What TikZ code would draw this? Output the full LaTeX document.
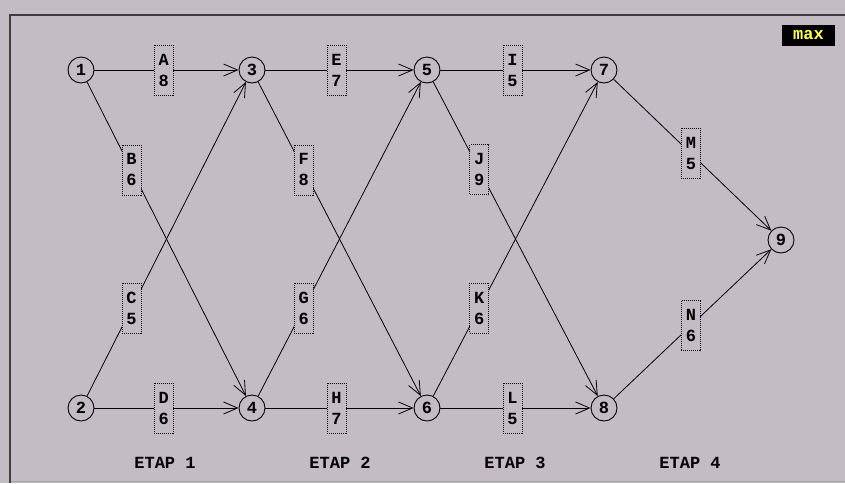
\documentclass[tikz,border=0pt]{standalone}
\usepackage{fontspec}
\setmonofont{Liberation Mono}
\usetikzlibrary{arrows.meta}
\definecolor{bg}{RGB}{196,188,196}
\definecolor{framec}{RGB}{64,60,64}
\definecolor{maxy}{RGB}{255,255,85}
\begin{document}
\begin{tikzpicture}[x=1pt,y=-1pt,
  st/.style={circle,draw,line width=0.9pt,minimum size=26pt,inner sep=0pt,font=\ttfamily\bfseries\fontsize{17}{17}\selectfont},
  lab/.style={draw,dash pattern=on 1pt off 1pt,line width=0.8pt,fill=bg,minimum width=19pt,minimum height=50pt,inner sep=0pt,align=center,font=\ttfamily\bfseries\fontsize{17}{21}\selectfont},
  edge/.style={line width=0.8pt,-{Straight Barb[length=14pt,width=12pt,line width=0.8pt]}},
  etap/.style={font=\ttfamily\bfseries\fontsize{17}{17}\selectfont},
  diag/.style={pos=0.28},
  mid/.style={pos=0.48}]
\fill[bg] (0,0) rectangle (845,483);
\useasboundingbox (0,0) rectangle (845,483);
\draw[framec,line width=2pt] (845,15) -- (10,15) -- (10,483);
\draw[gray!70,line width=1pt] (11,481.5) -- (845,481.5);

\node[st] (n1) at (81,70) {1};
\node[st] (n2) at (81,408) {2};
\node[st] (n3) at (252,70) {3};
\node[st] (n4) at (252,408) {4};
\node[st] (n5) at (427,70) {5};
\node[st] (n6) at (427,408) {6};
\node[st] (n7) at (604,70) {7};
\node[st] (n8) at (604,408) {8};
\node[st] (n9) at (781,240) {9};

\draw[edge] (n1) -- node[lab,mid] (la) {A\\8} (n3);
\draw[edge] (n1) -- node[lab,diag] (lb) {B\\6} (n4);
\draw[edge] (n2) -- node[lab,diag] (lc) {C\\5} (n3);
\draw[edge] (n2) -- node[lab,mid] (ld) {D\\6} (n4);
\draw[edge] (n3) -- node[lab,mid] (le) {E\\7} (n5);
\draw[edge] (n3) -- node[lab,diag] (lf) {F\\8} (n6);
\draw[edge] (n4) -- node[lab,diag] (lg) {G\\6} (n5);
\draw[edge] (n4) -- node[lab,mid] (lh) {H\\7} (n6);
\draw[edge] (n5) -- node[lab,mid] (li) {I\\5} (n7);
\draw[edge] (n5) -- node[lab,diag] (lj) {J\\9} (n8);
\draw[edge] (n6) -- node[lab,diag] (lk) {K\\6} (n7);
\draw[edge] (n6) -- node[lab,mid] (ll) {L\\5} (n8);
\draw[edge] (n7) -- node[lab,pos=0.49] (lm) {M\\5} (n9);
\draw[edge] (n8) -- node[lab,pos=0.49] (ln) {N\\6} (n9);

\node[etap] (e1) at (165,463) {ETAP 1};
\node[etap] (e2) at (340,463) {ETAP 2};
\node[etap] (e3) at (515,463) {ETAP 3};
\node[etap] (e4) at (690,463) {ETAP 4};

\node[fill=black,text=maxy,minimum width=53pt,minimum height=21pt,inner sep=0pt,font=\ttfamily\bfseries\fontsize{17}{17}\selectfont] (mx) at (808.5,35.5) {max};
\end{tikzpicture}
\end{document}
